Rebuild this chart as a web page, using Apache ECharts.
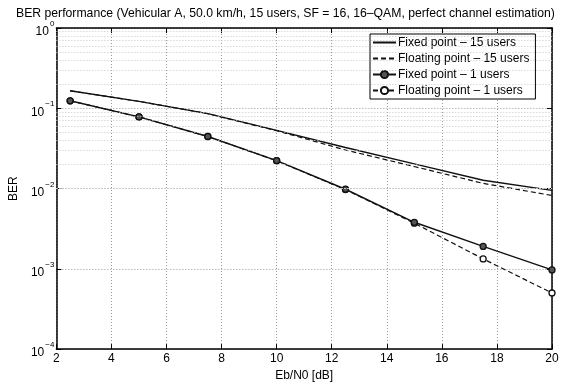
<!DOCTYPE html>
<html>
<head>
<meta charset="utf-8">
<script src="https://cdn.jsdelivr.net/npm/echarts@6/dist/echarts.min.js"></script>
<style>
html,body{margin:0;padding:0;background:#fff;}
#chart{width:566px;height:387px;}
</style>
</head>
<body>
<div id="chart"></div>
<script>
// ---- data ----
const ebn0 = [2.5, 5, 7.5, 10, 12.5, 15, 17.5, 20];
const fixed15 = [0.165, 0.122, 0.0857, 0.053, 0.0325, 0.0203, 0.0127, 0.0095];
const float15 = [0.165, 0.122, 0.0857, 0.0525, 0.0302, 0.0188, 0.0116, 0.0082];
const fixed1 = [0.124, 0.078, 0.0445, 0.0223, 0.0098, 0.0038, 0.0019, 0.00097];
const float1 = [0.124, 0.078, 0.0445, 0.0222, 0.0097, 0.0037, 0.00133, 0.0005];
const seriesNames = ['Fixed point – 15 users', 'Floating point – 15 users', 'Fixed point – 1 users', 'Floating point – 1 users'];
const titleText = 'BER performance (Vehicular A, 50.0 km/h, 15 users, SF = 16, 16–QAM, perfect channel estimation)';
const xLabel = 'Eb/N0 [dB]';
const yLabel = 'BER';
const xMin = 2, xMax = 20, xStep = 2;
const yDecades = [-4, -3, -2, -1, 0];
const minorMultipliers = [2, 3, 4, 5, 6, 7, 8, 9];

// minor log grid values
const minorVals = [];
for (let d = yDecades[0]; d < yDecades[yDecades.length - 1]; d++) {
  minorMultipliers.forEach(m => minorVals.push(m * Math.pow(10, d)));
}

const FONT = 'Liberation Sans';
const pair = arr => ebn0.map((x, i) => [x, arr[i]]);
const lineCol = '#111';

// fit title font to the reference's title width
const mctx = document.createElement('canvas').getContext('2d');
mctx.font = '12px "' + FONT + '"';
const titleW12 = mctx.measureText(titleText).width;
const titleSize = Math.min(12.5, 12 * 539 / titleW12);

const chart = echarts.init(document.getElementById('chart'), null, {renderer: 'canvas'});
const option = {
  backgroundColor: '#fff',
  animation: false,
  textStyle: {fontFamily: FONT, color: '#000'},
  title: {
    text: titleText,
    left: 11, top: 3,
    textStyle: {fontFamily: FONT, fontSize: titleSize, fontWeight: 'normal', color: '#000'}
  },
  grid: {left: 53, right: 14, top: 28, bottom: 30.5, containLabel: false},
  legend: {
    data: seriesNames.map((n, i) => i < 2 ? {name: n, itemStyle: {opacity: 0}} : {name: n}),
    orient: 'vertical',
    left: 370, top: 34,
    backgroundColor: '#fff',
    borderColor: '#000', borderWidth: 1,
    padding: [2, 6, 2, 2],
    itemWidth: 23, itemHeight: 9, itemGap: 3,
    textStyle: {fontFamily: FONT, fontSize: 12, lineHeight: 13, color: '#000', padding: [0, 0, 0, -3]}
  },
  xAxis: [{
    type: 'value', min: xMin, max: xMax, interval: xStep,
    name: xLabel, nameLocation: 'middle', nameGap: 16,
    nameTextStyle: {fontFamily: FONT, fontSize: 12, color: '#000'},
    axisLine: {show: true, onZero: false, lineStyle: {color: '#000', width: 1.5}},
    axisTick: {show: true, inside: true, length: 5, lineStyle: {color: '#000'}},
    axisLabel: {fontFamily: FONT, fontSize: 12, color: '#000', margin: 4},
    splitLine: {show: true, lineStyle: {color: '#999', type: [1, 2], width: 1}}
  }, {
    type: 'value', min: xMin, max: xMax, interval: xStep, position: 'top',
    axisLine: {show: true, onZero: false, lineStyle: {color: '#000', width: 1.5}},
    axisTick: {show: true, inside: true, length: 5, lineStyle: {color: '#000'}},
    axisLabel: {show: false}, splitLine: {show: false}
  }],
  yAxis: [{
    type: 'log', logBase: 10, min: Math.pow(10, yDecades[0]), max: Math.pow(10, yDecades[yDecades.length - 1]),
    name: yLabel, nameLocation: 'middle', nameGap: 28, nameRotate: 90,
    nameTextStyle: {fontFamily: FONT, fontSize: 12, color: '#000'},
    axisLine: {show: true, onZero: false, lineStyle: {color: '#000', width: 1.5}},
    axisTick: {show: true, inside: true, length: 5, lineStyle: {color: '#000'}},
    axisLabel: {
      margin: 2,
      formatter: v => '{b|10}{s|' + String(Math.round(Math.log10(v))).replace('-', '−') + '}',
      rich: {
        b: {fontFamily: FONT, fontSize: 12, color: '#000', padding: [8, 0, 0, 0]},
        s: {fontFamily: FONT, fontSize: 8, color: '#000', padding: [0, 0, 8, 1]}
      }
    },
    splitLine: {show: true, lineStyle: {color: '#999', type: [1, 2], width: 1}}
  }, {
    type: 'log', logBase: 10, min: Math.pow(10, yDecades[0]), max: Math.pow(10, yDecades[yDecades.length - 1]),
    position: 'right',
    axisLine: {show: true, onZero: false, lineStyle: {color: '#000', width: 1.5}},
    axisTick: {show: true, inside: true, length: 5, lineStyle: {color: '#000'}},
    axisLabel: {show: false}, splitLine: {show: false}
  }],
  series: [
    {
      name: 'minor-grid', type: 'line', data: [], z: 1, silent: true,
      markLine: {
        silent: true, symbol: 'none', label: {show: false},
        lineStyle: {color: '#c8c8c8', type: [1, 2], width: 1},
        data: minorVals.map(v => ({yAxis: v}))
      }
    },
    {
      name: seriesNames[0], type: 'line', data: pair(fixed15), symbol: 'none', z: 3,
      lineStyle: {color: lineCol, width: 1.4, type: 'solid'}, itemStyle: {color: lineCol}
    },
    {
      name: seriesNames[1], type: 'line', data: pair(float15), symbol: 'none', z: 3,
      lineStyle: {color: lineCol, width: 1.2, type: [5, 3]}, itemStyle: {color: lineCol}
    },
    {
      name: seriesNames[2], type: 'line', data: pair(fixed1), symbol: 'circle', symbolSize: 6, z: 4,
      lineStyle: {color: lineCol, width: 1.4, type: 'solid'},
      itemStyle: {color: '#555', borderColor: '#111', borderWidth: 1.3}
    },
    {
      name: seriesNames[3], type: 'line', data: pair(float1), symbol: 'circle', symbolSize: 6, z: 3,
      lineStyle: {color: lineCol, width: 1.2, type: [5, 3]},
      itemStyle: {color: '#fff', borderColor: '#111', borderWidth: 1.3}
    }
  ]
};
chart.setOption(option);
</script>
</body>
</html>
